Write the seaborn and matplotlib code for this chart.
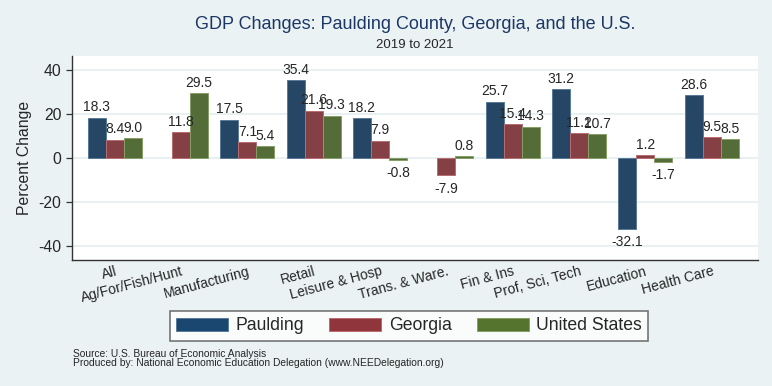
import numpy as np
import pandas as pd
import matplotlib.pyplot as plt
from matplotlib.patches import Patch
import seaborn as sns

categories = ['All', 'Ag/For/Fish/Hunt', 'Manufacturing', 'Retail', 'Leisure & Hosp',
              'Trans. & Ware.', 'Fin & Ins', 'Prof, Sci, Tech', 'Education', 'Health Care']
paulding = [18.3, np.nan, 17.5, 35.4, 18.2, np.nan, 25.7, 31.2, -32.1, 28.6]
georgia = [8.4, 11.8, 7.1, 21.6, 7.9, -7.9, 15.4, 11.2, 1.2, 9.5]
united_states = [9.0, 29.5, 5.4, 19.3, -0.8, 0.8, 14.3, 10.7, -1.7, 8.5]
regions = ['Paulding', 'Georgia', 'United States']
colors = {'Paulding': '#1A476F', 'Georgia': '#90353B', 'United States': '#55752F'}
edges = {'Paulding': '#5A7A9A', 'Georgia': '#B86C70', 'United States': '#87A066'}

df = pd.DataFrame({'Sector': categories, 'Paulding': paulding,
                   'Georgia': georgia, 'United States': united_states})
df = df.melt(id_vars='Sector', var_name='Region', value_name='Change').dropna()

sns.set_style('white')
plt.rcParams['font.family'] = ['Liberation Sans', 'DejaVu Sans']
plt.rcParams['axes.unicode_minus'] = False

bg = '#EAF2F3'
fig = plt.figure(figsize=(7.72, 3.86), dpi=100, facecolor=bg)
ax = fig.add_axes([72/772, 1-260/386, 686/772, 204/386])
ax.set_facecolor('white')

sns.barplot(data=df, x='Sector', y='Change', hue='Region', order=categories,
            hue_order=regions, palette=colors, width=0.815, errorbar=None,
            legend=False, ax=ax, zorder=3)

# value labels above (or below) each bar
for cont, reg in zip(ax.containers, regions):
    for bar in cont:
        bar.set_edgecolor(edges[reg])
        bar.set_linewidth(0.7)
        h = bar.get_height()
        if np.isnan(h):
            continue
        x = bar.get_x() + bar.get_width()/2
        if h >= 0:
            ax.annotate(f'{h:.1f}', (x, h), xytext=(0, 2.4), textcoords='offset points',
                        ha='center', va='bottom', fontsize=10, zorder=5)
        else:
            ax.annotate(f'{h:.1f}', (x, h), xytext=(0, -4.5), textcoords='offset points',
                        ha='center', va='top', fontsize=10, zorder=5)

ax.set_ylim(-46.4, 46.4)
ax.set_xlim(-0.644, 9.70)
ax.set_yticks([-40, -20, 0, 20, 40])
ax.yaxis.grid(True, color='#E3ECEE', linewidth=1.1, zorder=0)
ax.xaxis.grid(False)
ax.set_axisbelow(True)

for s in ['top', 'right']:
    ax.spines[s].set_visible(False)
for s in ['left', 'bottom']:
    ax.spines[s].set_color('#333333')
    ax.spines[s].set_linewidth(1.0)

ax.tick_params(axis='y', length=4.5, width=0.9, color='#333333', pad=3, labelsize=11.3, left=True)
ax.tick_params(axis='x', length=0, pad=3, labelsize=10)
ax.set_xticks(range(len(categories)))
ax.set_xticklabels(categories, rotation=15, ha='right', rotation_mode='anchor')

ax.set_xlabel('')
ax.set_ylabel('Percent Change', fontsize=11.3)
ax.yaxis.label.set_va('center')
ax.yaxis.set_label_coords((25-72)/686, 0.5)

fig.text(415/772, 1-24.5/386, 'GDP Changes: Paulding County, Georgia, and the U.S.',
         ha='center', va='center', fontsize=13, color='#1C3766')
fig.text(415/772, 1-45.5/386, '2019 to 2021', ha='center', va='center', fontsize=9.5)

handles = [Patch(facecolor=colors[r], edgecolor=edges[r], linewidth=0.7) for r in regions]
leg = fig.legend(handles, regions, ncol=3, loc='center', bbox_to_anchor=(409/772, 1-326/386),
                 fontsize=12.7, frameon=True, fancybox=False, handlelength=2.95, handleheight=0.8,
                 handletextpad=0.42, columnspacing=1.42, borderpad=0.35, borderaxespad=0)
leg.get_frame().set_edgecolor('#555555')
leg.get_frame().set_linewidth(1.2)
leg.get_frame().set_facecolor('white')

fig.text(73/772, 1-354/386, 'Source: U.S. Bureau of Economic Analysis', ha='left', va='center', fontsize=7.4)
fig.text(73/772, 1-362.5/386, 'Produced by: National Economic Education Delegation (www.NEEDelegation.org)',
         ha='left', va='center', fontsize=7.4)

fig.savefig('out.png', dpi=100, facecolor=bg)
